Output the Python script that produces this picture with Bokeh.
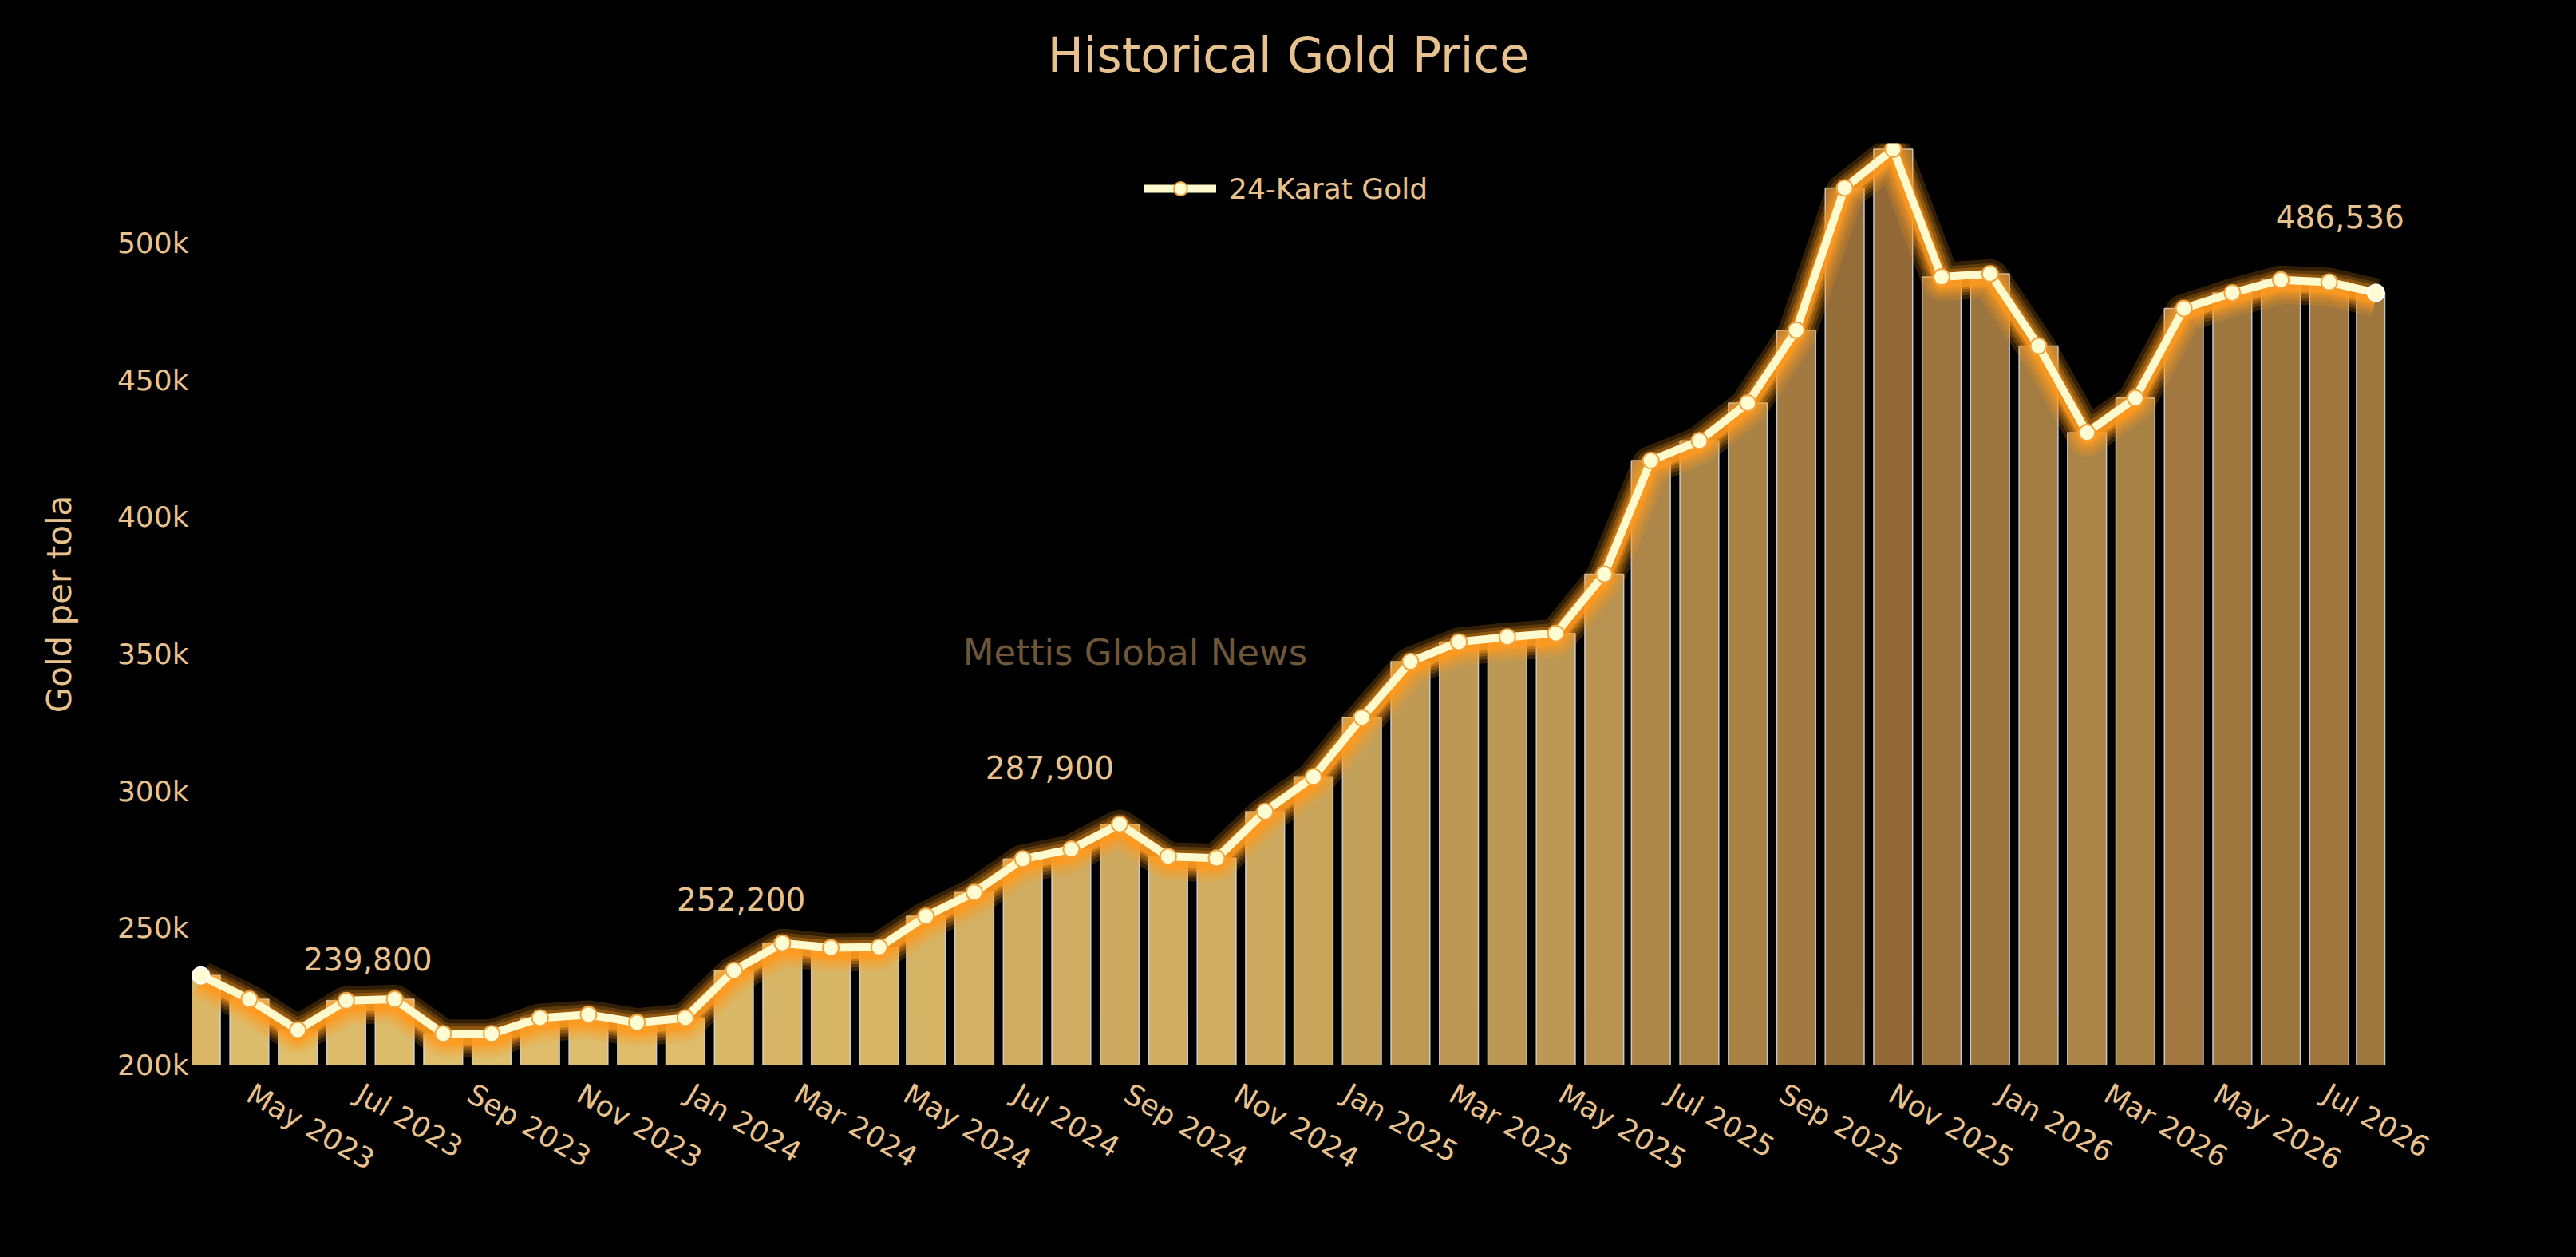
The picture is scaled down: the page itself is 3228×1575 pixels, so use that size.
import math
from datetime import datetime, timedelta

from bokeh.plotting import figure
from bokeh.models import (ColumnDataSource, Range1d, MonthsTicker, DatetimeTickFormatter,
                          NumeralTickFormatter, SingleIntervalTicker, Label, Legend, LegendItem)
from bokeh.embed import file_html
from bokeh.resources import INLINE
from bokeh.core.properties import value

# ---------------- data ----------------
dates = [
    "2023-04-04", "2023-05-01", "2023-05-28", "2023-06-24", "2023-07-21", "2023-08-17",
    "2023-09-13", "2023-10-10", "2023-11-06", "2023-12-03", "2023-12-30", "2024-01-26",
    "2024-02-22", "2024-03-20", "2024-04-16", "2024-05-12", "2024-06-08", "2024-07-05",
    "2024-08-01", "2024-08-28", "2024-09-24", "2024-10-21", "2024-11-17", "2024-12-14",
    "2025-01-10", "2025-02-06", "2025-03-05", "2025-04-01", "2025-04-28", "2025-05-25",
    "2025-06-20", "2025-07-17", "2025-08-13", "2025-09-09", "2025-10-06", "2025-11-02",
    "2025-11-29", "2025-12-26", "2026-01-22", "2026-02-18", "2026-03-17", "2026-04-13",
    "2026-05-10", "2026-06-06", "2026-07-03", "2026-07-29",
]
prices = [
    232700, 224000, 212800, 223500, 224000, 211400, 211400, 217200, 218400, 215500,
    217200, 234500, 244500, 242800, 243000, 254300, 263000, 275200, 278800, 287900,
    276100, 275500, 292500, 305200, 326800, 347200, 354400, 356200, 357500, 379100,
    420600, 427800, 441600, 468200, 520100, 534200, 487600, 488800, 462400, 430800,
    443400, 476100, 481800, 486536, 485700, 481800,
]
series_name = "24-Karat Gold"

ann_dates = ["2023-07-06", "2024-01-30", "2024-07-20", "2026-07-09"]
ann_values = [239800, 252200, 287900, 486536]
ann_labels = ["239,800", "252,200", "287,900", "486,536"]

title_text = "Historical Gold Price"
y_title = "Gold per tola"
watermark = "Mettis Global News"

# ---------------- styles / layout ----------------
FONT = "DejaVu Sans"
TXT = "#E8C28E"
W, H = 3228, 1575
BL, BR, BT, BB = 240, 198, 179, 241
FRAME_W = W - BL - BR
FRAME_H = H - BT - BB
PX_PER_DAY = 2748 / 1222.0
Y0, Y1 = 200000, 536400
X0 = datetime(2023, 3, 30)
X1 = X0 + timedelta(days=FRAME_W / PX_PER_DAY)
BAR_CLIP = datetime(2026, 8, 3)          # bars end at the reference's plot edge
ann_shift_px = [-3.6, 29, 71, 79.5]      # text offset above the annotated value, in px
GLOW_DROP_PX = 6

to_dt = lambda s: datetime.strptime(s, "%Y-%m-%d")
xd = [to_dt(d) for d in dates]
upp = (Y1 - Y0) / FRAME_H                # data units per pixel

lo_c, hi_c = (223, 190, 108), (146, 105, 54)
vmin, vmax = min(prices), max(prices)


def shade(v):
    t = (v - vmin) / (vmax - vmin)
    return "#%02x%02x%02x" % tuple(int(round(a + (b - a) * t)) for a, b in zip(lo_c, hi_c))


half = timedelta(days=21.7 / 2)
src = ColumnDataSource(dict(
    x=xd, y=prices, color=[shade(v) for v in prices],
    glow=[v - GLOW_DROP_PX * upp for v in prices],
    left=[d - half for d in xd], right=[min(d + half, BAR_CLIP) for d in xd]))

p = figure(width=W, height=H, x_axis_type="datetime", output_backend="svg", toolbar_location=None,
           tools="", x_range=Range1d(X0, X1), y_range=Range1d(Y0, Y1),
           min_border_left=BL, min_border_right=BR, min_border_top=BT, min_border_bottom=BB,
           background_fill_color="black", border_fill_color="black")
p.stylesheets = [":host { background-color: #000000; }"]
p.outline_line_color = "black"
p.outline_line_width = 3
p.xgrid.grid_line_color = None
p.ygrid.grid_line_color = None

# bars
p.quad(left="left", right="right", top="y", bottom=0, source=src, fill_color="color",
       line_color="#D8DCEA", line_alpha=0.85, line_width=1.5)

# glow
for w, a in [(48, 0.2), (38, 0.22), (30, 0.3), (22, 0.45), (16, 0.75)]:
    p.line("x", "glow", source=src, line_width=w, line_color="#FF9A1F", line_alpha=a,
           line_join="round", line_cap="butt")

main = p.line("x", "y", source=src, line_width=10, line_color="#FFFACD", line_join="round",
              line_cap="round")
pts = p.scatter("x", "y", source=src, size=20, fill_color="#FFFBD2", line_color="#F2A441",
                line_width=2)
ends = ColumnDataSource(dict(x=[xd[0], xd[-1]], y=[prices[0], prices[-1]]))
p.scatter("x", "y", source=ends, size=21, fill_color="#FFFBD2", line_color="white", line_width=2)

# value annotations
ann_src = ColumnDataSource(dict(
    x=[to_dt(d) for d in ann_dates],
    y=[v + s * upp for v, s in zip(ann_values, ann_shift_px)],
    t=ann_labels))
p.text("x", "y", text="t", source=ann_src, text_align="center", text_baseline="middle",
       text_font=value(FONT), text_font_size="39px", text_color=TXT)

# axes
p.xaxis.ticker = MonthsTicker(months=[0, 2, 4, 6, 8, 10])
p.xaxis.formatter = DatetimeTickFormatter(days="%b %Y", months="%b %Y", years="%b %Y")
p.xaxis.major_label_orientation = -math.pi / 6
p.yaxis.ticker = SingleIntervalTicker(interval=50000, num_minor_ticks=0)
p.yaxis.formatter = NumeralTickFormatter(format="0a")
for ax in (p.xaxis, p.yaxis):
    ax.axis_line_color = None
    ax.major_tick_line_color = None
    ax.minor_tick_line_color = None
    ax.major_tick_out = 0
    ax.major_tick_in = 0
    ax.major_label_text_font = FONT
    ax.major_label_text_font_size = "36px"
    ax.major_label_text_color = TXT
p.xaxis.major_label_standoff = 33
p.yaxis.major_label_standoff = 4
p.yaxis.axis_label = y_title
p.yaxis.axis_label_text_font = FONT
p.yaxis.axis_label_text_font_size = "42px"
p.yaxis.axis_label_text_font_style = "normal"
p.yaxis.axis_label_text_color = TXT
p.yaxis.axis_label_standoff = 45

# title, drawn in the top border panel (page centre x=1614, centre y=68)
p.add_layout(Label(x=W / 2 - BL, y=BT - 68, x_units="screen", y_units="screen", text=title_text,
                   text_align="center", text_baseline="middle", text_font=FONT,
                   text_font_size="60px", text_color=TXT), "above")

# legend
legend = Legend(items=[LegendItem(label=series_name, renderers=[main, pts])],
                location=(1194, 1077), orientation="horizontal",
                label_text_font=FONT, label_text_font_size="36px", label_text_color=TXT,
                glyph_width=90, glyph_height=42, label_standoff=16, padding=0, margin=0,
                background_fill_alpha=0, border_line_alpha=0)
p.add_layout(legend, "center")

# watermark
p.add_layout(Label(x=1182, y=517, x_units="screen", y_units="screen", text=watermark,
                   text_align="center", text_baseline="middle", text_font=FONT,
                   text_font_size="45px", text_color="#6E5738"))

html = file_html(p, INLINE)
html = html.replace("<body>", '<body style="background-color:#000000">', 1)
open("out.html", "w").write(html)
